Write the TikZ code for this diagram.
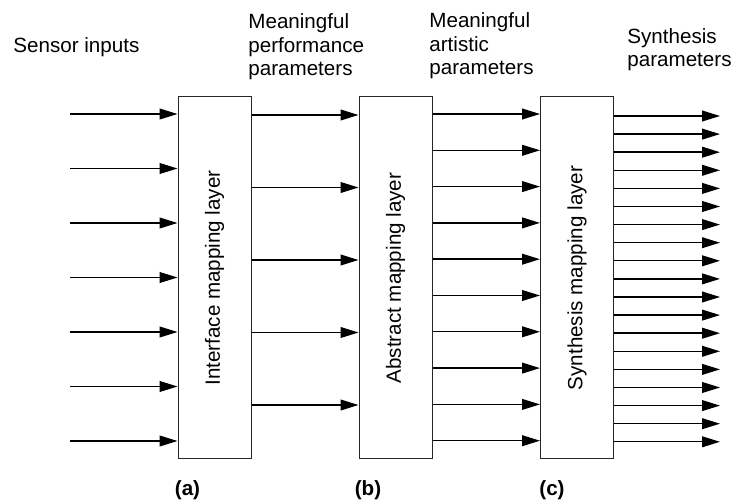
\documentclass[tikz,border=0pt]{standalone}
\usepackage{fontspec}
\setmainfont{Liberation Sans}
\usetikzlibrary{arrows.meta}

\tikzset{
layer/.style={rectangle,draw=black!85,line width=0.5pt,minimum width=36.5pt,minimum height=181pt,inner sep=0pt},
sig/.style={-{Triangle[length=9pt,width=5.4pt]},line width=0.7pt},
lbl/.style={align=left,anchor=base west,inner sep=0pt,font=\fontsize{10.3}{11.8}\selectfont},
tag/.style={inner sep=0pt,font=\fontsize{10.3}{11.8}\selectfont\bfseries}
}

\begin{document}
\begin{tikzpicture}[x=0.5pt,y=-0.5pt]
\useasboundingbox (0,0) rectangle (745,502);
\node[layer] (a) at (214.5,278) {};
\node[rotate=90,font=\fontsize{10.3}{11.8}\selectfont] (ta) at (a.center) {Interface mapping layer};
\node[layer] (b) at (395.5,278) {};
\node[rotate=90,font=\fontsize{10.3}{11.8}\selectfont] (tb) at (b.center) {Abstract mapping layer};
\node[layer] (c) at (577,278) {};
\node[rotate=90,font=\fontsize{10.3}{11.8}\selectfont] (tc) at (c.center) {Synthesis mapping layer};

\foreach \k in {0,...,6}{
  \coordinate (in\k) at (70,114+54.5*\k);
  \draw[sig] (in\k) -- (a.west |- in\k);
}
\foreach \k in {0,...,4}{
  \coordinate (ab\k) at (300,115+72.5*\k);
  \draw[sig] (a.east |- ab\k) -- (b.west |- ab\k);
}
\foreach \k in {0,...,9}{
  \coordinate (bc\k) at (480,114+36.3*\k);
  \draw[sig] (b.east |- bc\k) -- (c.west |- bc\k);
}
\foreach \k in {0,...,18}{
  \coordinate (out\k) at (720,116+18.1*\k);
  \draw[sig] (c.east |- out\k) -- (out\k);
}

\node[lbl] (sensor) at (13,53) {Sensor inputs};
\node[lbl] (perf) at (248,76) {Meaningful\\performance\\parameters};
\node[lbl] (art) at (429,75) {Meaningful\\artistic\\parameters};
\node[lbl] (synth) at (627,67) {Synthesis\\parameters};

\node[tag] (la) at (187.5,490) {(a)};
\node[tag] (lb) at (368,490) {(b)};
\node[tag] (lc) at (552,490) {(c)};
\end{tikzpicture}
\end{document}
